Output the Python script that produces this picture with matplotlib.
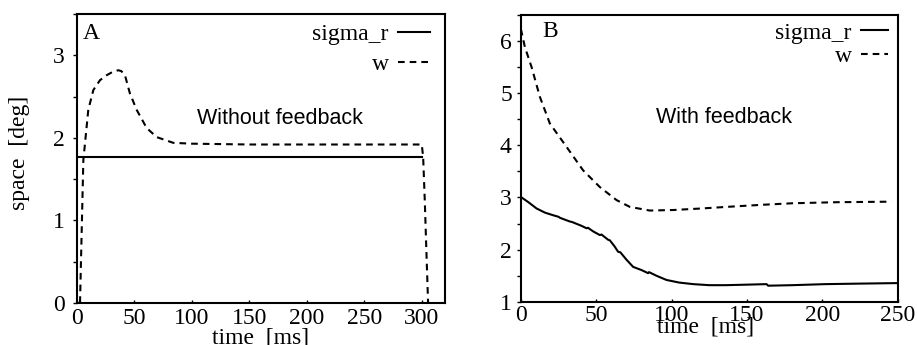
import numpy as np
import matplotlib
matplotlib.use("Agg")
import matplotlib.pyplot as plt
from matplotlib.ticker import MultipleLocator

# values read off the reference
# panel A: without feedback
a_sigma_t = [0, 300]
a_sigma_v = [1.77, 1.77]
a_w_t = [2.6, 5.5, 9.8, 14.2, 20, 25.8, 31, 35.9, 38.5, 41.7, 46, 51.9, 60.6, 69.3,
         83.8, 100, 150, 200, 250, 300, 301.2, 302.6, 304, 305.5]
a_w_v = [0.0, 1.73, 2.34, 2.58, 2.70, 2.76, 2.80, 2.82, 2.81, 2.76, 2.54, 2.34, 2.12, 2.01,
         1.94, 1.93, 1.92, 1.92, 1.92, 1.92, 1.77, 1.25, 0.64, 0.0]

# panel B: with feedback
b_w_t = [0, 2.7, 7.1, 12.6, 19.2, 30.3, 41.3, 52.4, 63.5, 72.3, 85.5, 101, 120, 136.4,
         160, 180.6, 210, 245.8]
b_w_v = [6.23, 5.88, 5.50, 4.93, 4.42, 3.97, 3.52, 3.20, 2.95, 2.82, 2.75, 2.76, 2.79, 2.82,
         2.86, 2.89, 2.91, 2.92]
b_sigma_t = [0, 5, 10.4, 16, 21.4, 25, 26, 32.5, 34, 40, 43.6, 44.5, 48, 52.4, 53.5, 57.9,
             59, 62, 64.5, 66, 70, 74.5, 80, 84.4, 85, 90, 96.6, 105, 114.3, 125, 136,
             150, 163, 164, 180, 202, 225, 250]
b_sigma_v = [3.01, 2.91, 2.79, 2.71, 2.66, 2.63, 2.61, 2.54, 2.53, 2.46, 2.41, 2.42, 2.35,
             2.28, 2.29, 2.19, 2.18, 2.07, 1.96, 1.95, 1.81, 1.67, 1.61, 1.55, 1.57, 1.50,
             1.42, 1.37, 1.34, 1.32, 1.32, 1.33, 1.34, 1.31, 1.32, 1.34, 1.35, 1.36]

serif = ["Liberation Serif", "DejaVu Serif"]
sans = ["Liberation Sans", "DejaVu Sans"]
plt.rcParams["font.family"] = serif
plt.rcParams["axes.linewidth"] = 1.5

fs = 17

fig = plt.figure(figsize=(9.17, 3.45), dpi=100)
axA = fig.add_axes([0.084, 0.122, 0.401, 0.837])
axB = fig.add_axes([0.568, 0.125, 0.411, 0.832])

dash = (3.2, 2.4)
lw = 1.5

def style(ax, ypad, xpad):
    ax.yaxis.set_minor_locator(MultipleLocator(0.5))
    ax.tick_params(axis="y", which="both", direction="out", length=3, width=1,
                   labelsize=fs, pad=ypad)
    ax.tick_params(axis="x", which="both", direction="in", length=2.5, width=1,
                   labelsize=fs, pad=xpad)

# A
axA.plot(a_sigma_t, a_sigma_v, color="black", lw=lw, label="sigma_r")
axA.plot(a_w_t, a_w_v, color="black", lw=lw, ls=(0, dash), label="w")
axA.set_xlim(0, 320)
axA.set_ylim(0, 3.5)
axA.set_xticks([0, 50, 100, 150, 200, 250, 300])
axA.set_yticks([0, 1, 2, 3])
style(axA, 6, 3.5)
axA.set_xlabel("time  [ms]", fontsize=fs)
axA.xaxis.set_label_coords(0.5, -0.085)
axA.set_ylabel("space  [deg]", fontsize=fs)
axA.yaxis.set_label_coords(-0.128, 0.52)
axA.text(0.016, 0.934, "A", transform=axA.transAxes, fontsize=fs, va="center")
axA.text(0.552, 0.64, "Without feedback", transform=axA.transAxes, fontsize=15.5,
         family=sans, ha="center", va="center")
axA.legend(loc="upper right", bbox_to_anchor=(0.96, 0.968), frameon=False, markerfirst=False,
           fontsize=fs, handlelength=1.36, handletextpad=0.4, borderpad=0,
           borderaxespad=0, labelspacing=0.36)

# B
axB.plot(b_sigma_t, b_sigma_v, color="black", lw=lw, label="sigma_r")
axB.plot(b_w_t, b_w_v, color="black", lw=lw, ls=(0, dash), label="w")
axB.set_xlim(0, 250)
axB.set_ylim(1, 6.5)
axB.set_xticks([0, 50, 100, 150, 200, 250])
axB.set_yticks([1, 2, 3, 4, 5, 6])
style(axB, 3.5, 2)
axB.set_xlabel("time  [ms]", fontsize=fs)
axB.xaxis.set_label_coords(0.49, -0.05)
axB.text(0.056, 0.941, "B", transform=axB.transAxes, fontsize=fs, va="center")
axB.text(0.538, 0.641, "With feedback", transform=axB.transAxes, fontsize=15.5,
         family=sans, ha="center", va="center")
axB.legend(loc="upper right", bbox_to_anchor=(0.975, 0.975), frameon=False, markerfirst=False,
           fontsize=fs, handlelength=1.15, handletextpad=0.4, borderpad=0,
           borderaxespad=0, labelspacing=0.1)

fig.savefig("out.png", dpi=100)
